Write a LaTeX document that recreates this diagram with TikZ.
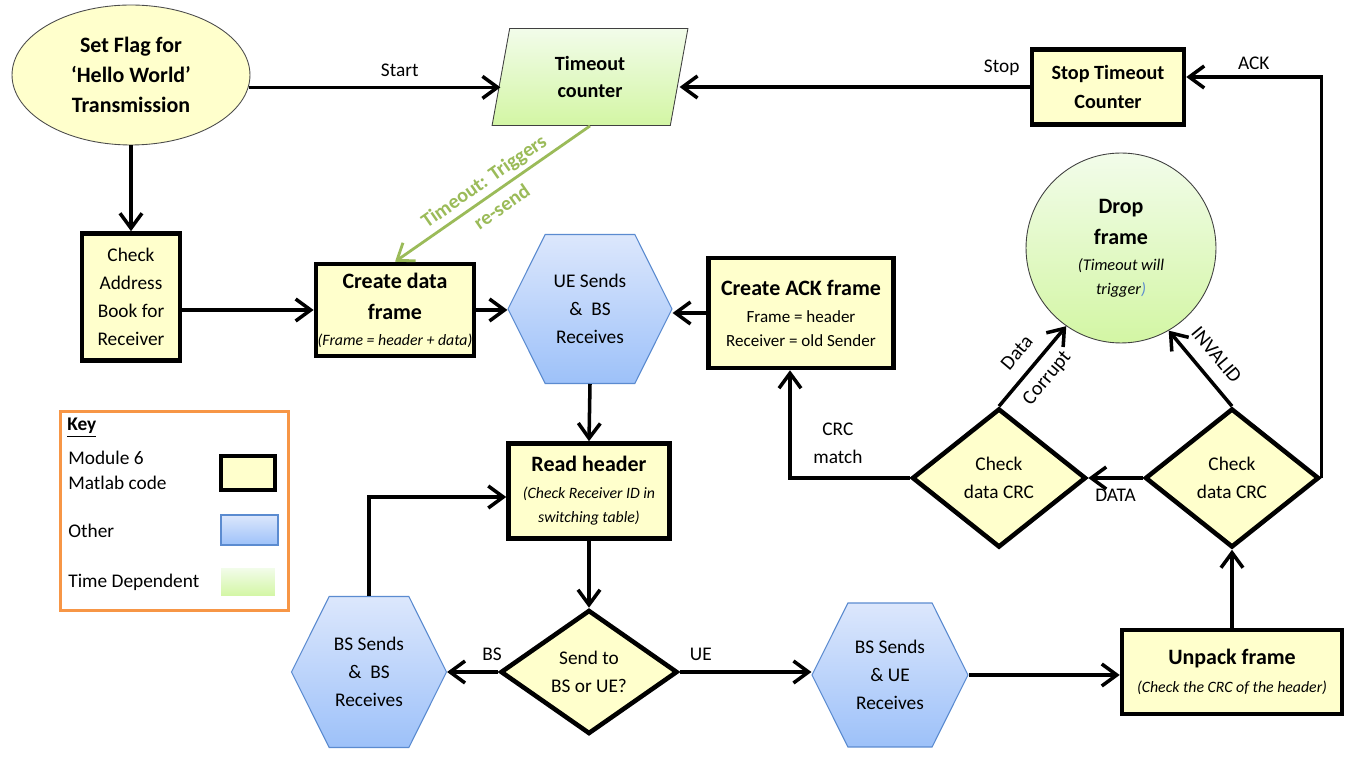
\documentclass[tikz,border=0pt]{standalone}
\usepackage{fontspec}
\setmainfont{Carlito}
\usetikzlibrary{shapes.geometric, shapes.symbols, arrows.meta, positioning, calc}

\definecolor{boxyellow}{HTML}{FFFFCC}
\definecolor{hexblue}{HTML}{DCE7FC}
\definecolor{hexbluedark}{HTML}{9DC1F9}
\definecolor{hexedge}{HTML}{5B8BD0}
\definecolor{timegreen}{HTML}{F2FCEA}
\definecolor{timegreendark}{HTML}{D3F6A4}
\definecolor{resend}{HTML}{9BBB59}
\definecolor{keyorange}{HTML}{F79646}

\newcommand{\boldline}{\fontsize{12.5}{17.5}\selectfont\bfseries}
\newcommand{\noteline}{\fontsize{9}{13.5}\selectfont\itshape}

\begin{document}
\begin{tikzpicture}[
    x=0.02cm, y=0.02cm,
    codebox/.style={rectangle, draw, line width=2.6pt, fill=boxyellow, align=center, inner sep=1pt, font=\fontsize{11}{16}\selectfont},
    decision/.style={diamond, draw, line width=2.6pt, fill=boxyellow, align=center, inner sep=0pt, font=\fontsize{11}{16}\selectfont},
    other/.style={signal, signal to=east and west, signal pointer angle=127, draw=hexedge, line width=0.6pt, top color=hexblue, bottom color=hexbluedark, align=center, inner sep=0pt, font=\fontsize{11}{16}\selectfont},
    timed/.style={draw=black!75, line width=0.5pt, top color=timegreen, bottom color=timegreendark, align=center, inner sep=0pt},
    arrow/.style={-{Straight Barb[length=3mm, width=4.4mm]}, line width=2pt},
    lbl/.style={font=\fontsize{11}{16}\selectfont, align=center},
    keytext/.style={anchor=west, inner sep=0pt, align=left, font=\fontsize{11}{14.2}\selectfont}
]
\useasboundingbox (0,0) rectangle (1356,-759);

% Top row: start and timeout
\node[ellipse, draw=black!70, line width=0.5pt, fill=boxyellow, minimum width=4.76cm, minimum height=2.8cm, align=center, font=\fontsize{12.5}{17}\selectfont\bfseries] (flag) at (131,-75) {Set Flag for\\`Hello World'\\Transmission};
\node[trapezium, trapezium left angle=79.5, trapezium right angle=100.5, trapezium stretches=true, timed, minimum width=3.92cm, minimum height=1.94cm, font=\fontsize{11.5}{15.5}\selectfont\bfseries] (timer) at (590,-77) {Timeout\\counter};
\node[codebox, minimum width=3.04cm, minimum height=1.5cm, font=\fontsize{11.5}{16}\selectfont\bfseries] (stopbox) at (1108,-87) {Stop Timeout\\Counter};

% Sender side
\node[codebox, minimum width=1.96cm, minimum height=2.54cm] (addrbox) at (131,-297) {Check\\Address\\Book for\\Receiver};
\node[codebox, minimum width=3.1cm, minimum height=1.84cm] (createbox) at (395,-310) {\boldline Create data\\[1.6pt]\boldline frame\\[-1.2pt]\noteline (Frame = header + data)};
\node[other, minimum width=3.28cm, minimum height=2.98cm] (uehex) at (590,-309) {UE Sends\\\&\ \ BS\\Receives};
\node[codebox, minimum width=3.7cm, minimum height=2.2cm, font=\fontsize{9.7}{13.7}\selectfont] (ackbox) at (801,-313) {\boldline Create ACK frame\\[1.7pt]Frame = header\\Receiver = old Sender};
\node[circle, timed, minimum size=3.8cm, font=\fontsize{9.3}{13.7}\selectfont] (drop) at (1121,-248) {\boldline Drop\\[3.9pt]\boldline frame\\[1.1pt]\itshape (Timeout will\\\itshape trigger{\color{hexedge})}};

% Switching
\node[codebox, minimum width=3.22cm, minimum height=1.9cm, font=\fontsize{9}{13.7}\selectfont] (readbox) at (589,-491) {\boldline Read header\\[1.7pt]\noteline (Check Receiver ID in\\\noteline switching table)};
\node[decision, minimum width=3.54cm, minimum height=2.48cm] (sendto) at (589,-672) {Send to\\BS or UE?};
\node[other, minimum width=3.1cm, minimum height=3.02cm] (bsbshex) at (369,-672) {BS Sends\\\&\ \ BS\\Receives};
\node[other, minimum width=3.12cm, minimum height=2.88cm] (bsuehex) at (890,-675) {BS Sends\\\& UE\\Receives};

% Receiver side
\node[codebox, minimum width=4.4cm, minimum height=1.68cm] (unpack) at (1232,-672) {\boldline Unpack frame\\\noteline (Check the CRC of the header)};
\node[decision, minimum width=3.48cm, minimum height=2.78cm] (crcR) at (1232,-478) {Check\\data CRC};
\node[decision, minimum width=3.48cm, minimum height=2.78cm] (crcL) at (999,-478) {Check\\data CRC};

% Key
\node[draw=keyorange, line width=1.7pt, minimum width=4.56cm, minimum height=3.98cm] (key) at (174.5,-511) {};
\node[keytext, font=\fontsize{11}{14}\selectfont\bfseries] (keytitle) at (67,-428) {\underline{Key}};
\node[keytext] (keymod) at (68,-470) {Module 6\\Matlab code};
\node[codebox, minimum width=1.08cm, minimum height=0.68cm] (swcode) at (248,-473) {};
\node[keytext] (keyother) at (68,-531) {Other};
\node[rectangle, draw=hexedge, line width=0.6pt, top color=hexblue, bottom color=hexbluedark, minimum width=1.14cm, minimum height=0.6cm] (swother) at (249.5,-530) {};
\node[keytext] (keytime) at (68,-582) {Time Dependent};
\node[rectangle, top color=timegreen, bottom color=timegreendark, minimum width=1.08cm, minimum height=0.56cm] (swtime) at (248,-582) {};

% Connectors
\draw[arrow] (flag.-6) -- (flag.-6 -| timer.west) node[pos=0.6, above=2pt, lbl] {Start};
\draw[arrow] (stopbox.west) -- (stopbox.west -| timer.east) node[pos=0.08, above=2pt, lbl] {Stop};
\draw[arrow] (crcR.east) |- ($(stopbox.east)+(0,10)$) node[pos=0.75, above, lbl] {ACK};
\draw[arrow] (flag.south) -- (addrbox.north);
\draw[arrow] (addrbox.east |- createbox.west) -- (createbox.west);
\draw[arrow, draw=resend, line width=1.6pt] (timer.south) -- (createbox.north) node[midway, sloped, lbl, text=resend, font=\fontsize{11.5}{18}\selectfont\bfseries] {Timeout: Triggers\\re-send};
\draw[arrow] (createbox.east) -- (createbox.east -| uehex.west);
\draw[arrow] (ackbox.west) -- (ackbox.west -| uehex.east);
\draw[arrow] (uehex.south) -- (readbox.north);
\draw[arrow] (readbox.south) -- (sendto.north);
\draw[arrow] (sendto.west) -- (bsbshex.east) node[pos=0.12, above=2pt, lbl] {BS};
\draw[arrow] (bsbshex.north) |- ($(readbox.west)+(0,-6)$);
\draw[arrow] (sendto.east) -- (sendto.east -| bsuehex.west) node[pos=0.16, above=2pt, lbl] {UE};
\draw[arrow] (bsuehex.east) -- (bsuehex.east -| unpack.west);
\draw[arrow] (unpack.north) -- (crcR.south);
\draw[arrow] (crcR.west) -- (crcL.east) node[midway, below=2pt, lbl] {DATA};
\draw[arrow] (crcL.west) -| ($(ackbox.south)+(-11,0)$) node[pos=0.3, above=4pt, lbl] {CRC\\match};
\draw[arrow] (crcL.north) -- (drop.-125) node[midway, sloped, lbl, font=\fontsize{11.5}{22}\selectfont] {Data\\Corrupt};
\draw[arrow] (crcR.north) -- (drop.-60) node[midway, sloped, above=4pt, lbl, font=\fontsize{11.5}{17}\selectfont] {INVALID};

\end{tikzpicture}
\end{document}
